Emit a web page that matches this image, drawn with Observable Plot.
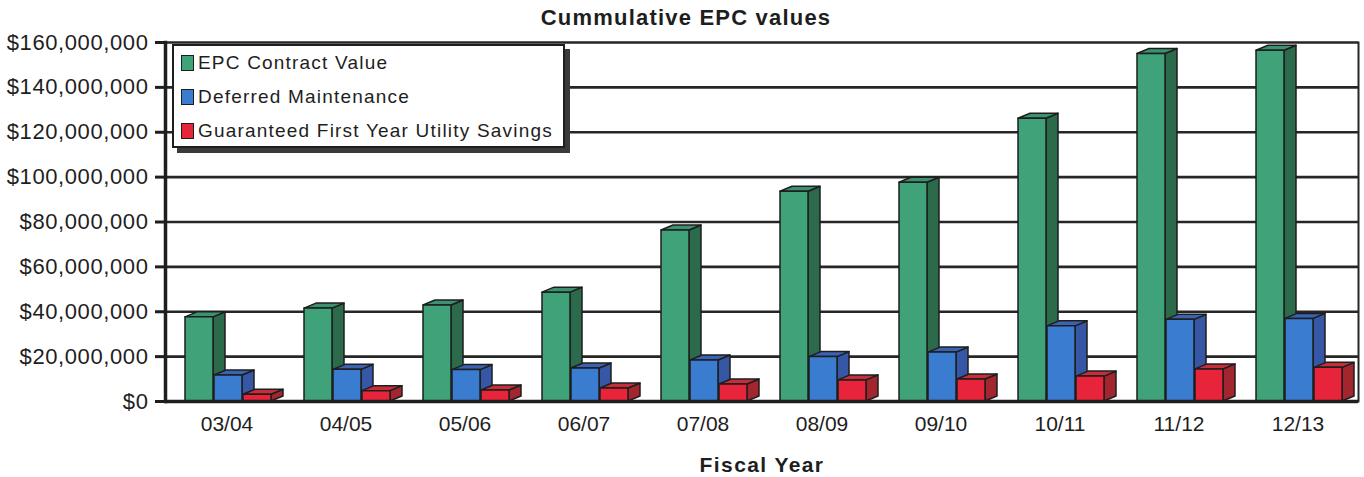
<!DOCTYPE html>
<html>
<head>
<meta charset="utf-8">
<script src="https://cdn.jsdelivr.net/npm/d3@7"></script>
<script src="https://cdn.jsdelivr.net/npm/@observablehq/plot@0.6"></script>
<style>
  html, body { margin: 0; padding: 0; background: #fff; }
  #chart { position: relative; width: 1364px; height: 477px; font-family: "Liberation Sans", Arial, sans-serif; color: #1e1e1e; }
  #title { position: absolute; left: 0; top: 0; width: 1364px; padding-left: 8px; box-sizing: border-box;
           text-align: center; line-height: 36px; font-size: 22px; font-weight: bold; letter-spacing: 1.2px; }
  #legend { position: absolute; left: 172px; top: 44px; width: 389px; height: 100px; background: #fff;
            border: 2px solid #1e1e1e; box-shadow: 5px 5px 0 #3a3a3a; }
  .item { position: absolute; left: 7px; height: 20px; line-height: 20px; font-size: 19px; letter-spacing: 1.2px; white-space: nowrap; }
  .sw { display: inline-block; width: 11px; height: 14px; border: 1.5px solid #1e1e1e; vertical-align: -2px; margin-right: 4px; }
  svg [aria-label="y-axis tick label"] text { letter-spacing: 0.6px; }
</style>
</head>
<body>
<div id="chart">
  <div id="title"></div>
  <div id="legend"></div>
</div>
<script>
// Fiscal years and cumulative totals (US dollars)
const years = ["03/04", "04/05", "05/06", "06/07", "07/08", "08/09", "09/10", "10/11", "11/12", "12/13"];
const contractValue = [37.5e6, 41.4e6, 42.8e6, 48.5e6, 76.2e6, 93.5e6, 97.5e6, 126.0e6, 154.9e6, 156.3e6];
const deferredMaintenance = [11.6e6, 14.1e6, 14.0e6, 14.7e6, 18.3e6, 19.8e6, 21.8e6, 33.5e6, 36.4e6, 36.8e6];
const utilitySavings = [3.0e6, 4.6e6, 4.9e6, 5.8e6, 7.6e6, 9.4e6, 9.8e6, 11.1e6, 14.3e6, 15.0e6];
const seriesNames = ["EPC Contract Value", "Deferred Maintenance", "Guaranteed First Year Utility Savings"];
const yTicks = [0, 20e6, 40e6, 60e6, 80e6, 100e6, 120e6, 140e6, 160e6];

const titleText = "Cummulative EPC values";
const xTitle = "Fiscal Year";

// face colours: front, side, top
const styles = [
  {front: "#3fa278", side: "#2b6b4b", top: "#3a9270"},
  {front: "#3a7dd0", side: "#3557a6", top: "#3b63b4"},
  {front: "#e8243a", side: "#a3262f", top: "#c62e3a"}
];
const OUTLINE = "#1e1e1e";
const BAR_W = 28, DEPTH_X = 12, DEPTH_Y = -5;
const OFFSETS = [18, 47, 76];

// one series of extruded boxes, each box placed inside its fiscal-year band
function boxes(values, k) {
  const rows = years.map((year, i) => ({year, value: values[i]}));
  const s = styles[k];
  return Plot.barY(rows, {
    x: "year",
    y: "value",
    fill: s.front,
    render(index, scales) {
      const {x, y} = scales;
      const g = d3.create("svg:g")
        .attr("stroke", OUTLINE)
        .attr("stroke-width", 1.5)
        .attr("stroke-linejoin", "round");
      for (const i of index) {
        const x0 = x(rows[i].year) + OFFSETS[k];
        const x1 = x0 + BAR_W;
        const yb = y(0), yt = y(rows[i].value);
        g.append("path").attr("fill", s.side)
          .attr("d", `M${x1},${yt}L${x1 + DEPTH_X},${yt + DEPTH_Y}L${x1 + DEPTH_X},${yb + DEPTH_Y}L${x1},${yb}Z`);
        g.append("path").attr("fill", s.top)
          .attr("d", `M${x0},${yt}L${x0 + DEPTH_X},${yt + DEPTH_Y}L${x1 + DEPTH_X},${yt + DEPTH_Y}L${x1},${yt}Z`);
        g.append("rect").attr("fill", s.front)
          .attr("x", x0).attr("y", yt).attr("width", BAR_W).attr("height", yb - yt);
      }
      return g.node();
    }
  });
}

const chart = Plot.plot({
  width: 1364,
  height: 477,
  marginTop: 42,
  marginBottom: 76,
  marginLeft: 165,
  marginRight: 6,
  style: {fontFamily: "'Liberation Sans', Arial, sans-serif", color: "#1e1e1e", background: "#fff"},
  x: {type: "band", domain: years, padding: 0, axis: null},
  y: {domain: [0, 160e6], axis: null},
  marks: [
    Plot.ruleY(yTicks, {stroke: "#262626", strokeWidth: 2.6}),
    Plot.frame({anchor: "right", stroke: "#262626", strokeWidth: 2}),
    boxes(contractValue, 0),
    boxes(deferredMaintenance, 1),
    boxes(utilitySavings, 2),
    Plot.ruleY([0], {stroke: "#1e1e1e", strokeWidth: 3.5}),
    Plot.frame({anchor: "left", stroke: "#1e1e1e", strokeWidth: 3.5}),
    Plot.axisY({
      ticks: yTicks,
      tickFormat: d => "$" + d3.format(",")(d),
      tickSize: 10,
      tickPadding: 7,
      fontSize: 22,
      strokeWidth: 3,
      label: null
    }),
    Plot.axisX({tickSize: 0, tickPadding: 15, fontSize: 21, label: null}),
    Plot.text([xTitle], {
      frameAnchor: "bottom",
      dy: 70,
      fontSize: 21,
      fontWeight: "bold",
      text: d => d
    })
  ]
});

const root = document.getElementById("chart");
root.insertBefore(chart, root.firstChild);
d3.select(chart).style("position", "absolute").style("left", "0").style("top", "0");
d3.select(chart).selectAll("text").filter(function () { return this.textContent === xTitle; })
  .style("letter-spacing", "1.4px");

document.getElementById("title").textContent = titleText;

// legend rows
const legend = d3.select("#legend");
seriesNames.forEach((name, k) => {
  const row = legend.append("div").attr("class", "item").style("top", `${7 + k * 34}px`);
  row.append("span").attr("class", "sw").style("background", styles[k].front);
  row.append("span").text(name);
});
</script>
</body>
</html>
